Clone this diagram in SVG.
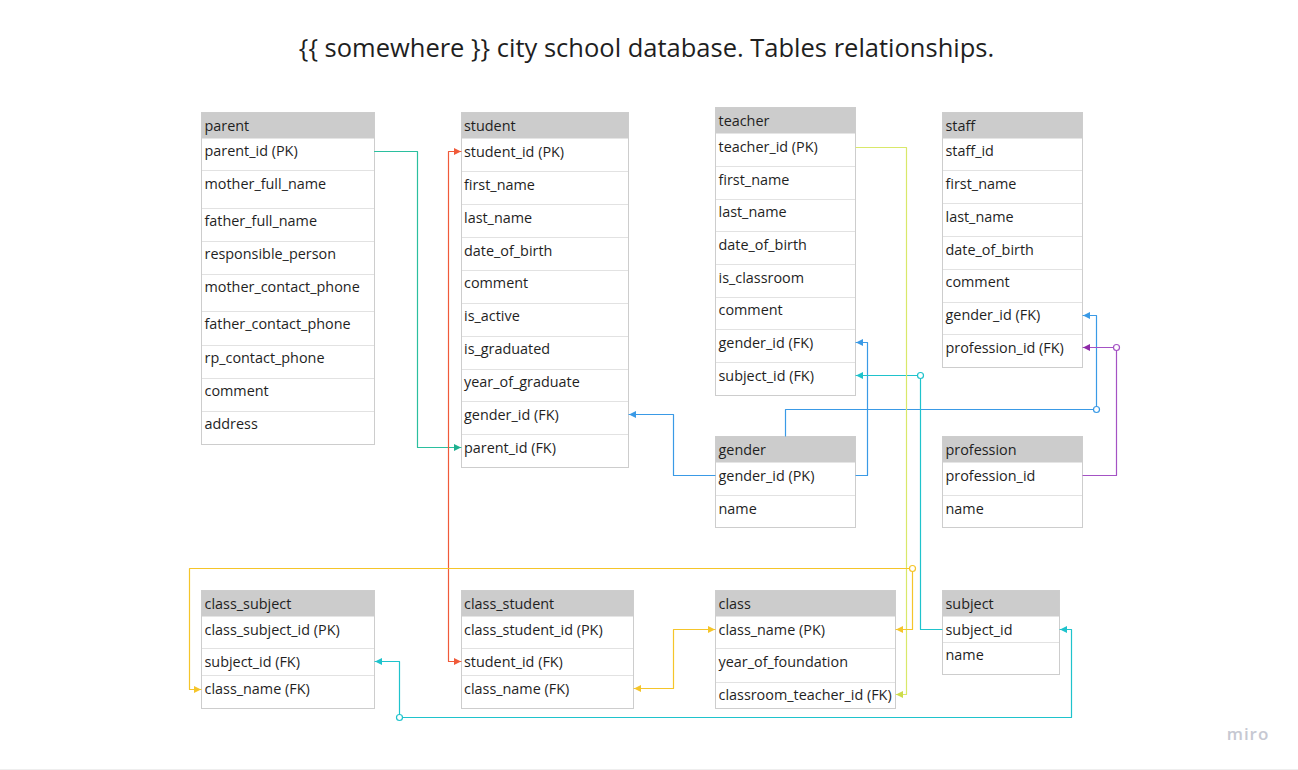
<svg xmlns="http://www.w3.org/2000/svg" width="1298" height="770" viewBox="0 0 1298 770">
<style>
.bg{fill:#ffffff}
.tb{fill:#ffffff;stroke:#cdcdcd;stroke-width:1}
.hd{fill:#cccccc}
.sep{stroke:#e2e2e2;stroke-width:1}
.t{font-family:"Open Sans","Liberation Sans",sans-serif;font-size:14.4px;fill:#1f1f1f}
.title{font-family:"Open Sans","Liberation Sans",sans-serif;font-size:25.5px;fill:#1f1f1f}
.c{fill:none;stroke-width:1.2;stroke-linejoin:round;stroke-linecap:round}
.dot{fill:#ffffff;stroke-width:1.2}
.teal{stroke:#2bbf9f}
.red{stroke:#f05a3a}
.blue{stroke:#3a9ae6}
.cyan{stroke:#1fc3cc}
.yel{stroke:#f5c52a}
.lime{stroke:#d9e86a}
.pur{stroke:#a452c4}
</style>
<defs>
<marker id="aTeal" markerUnits="userSpaceOnUse" markerWidth="8" markerHeight="8" refX="7" refY="3.5" orient="auto-start-reverse"><path d="M0,0 L7,3.5 L0,7 z" fill="#1fb08f"/></marker>
<marker id="aRed" markerUnits="userSpaceOnUse" markerWidth="8" markerHeight="8" refX="7" refY="3.5" orient="auto-start-reverse"><path d="M0,0 L7,3.5 L0,7 z" fill="#f05a3a"/></marker>
<marker id="aBlue" markerUnits="userSpaceOnUse" markerWidth="8" markerHeight="8" refX="7" refY="3.5" orient="auto-start-reverse"><path d="M0,0 L7,3.5 L0,7 z" fill="#3a9ae6"/></marker>
<marker id="aCyan" markerUnits="userSpaceOnUse" markerWidth="8" markerHeight="8" refX="7" refY="3.5" orient="auto-start-reverse"><path d="M0,0 L7,3.5 L0,7 z" fill="#1fc3cc"/></marker>
<marker id="aYel" markerUnits="userSpaceOnUse" markerWidth="8" markerHeight="8" refX="7" refY="3.5" orient="auto-start-reverse"><path d="M0,0 L7,3.5 L0,7 z" fill="#f5c52a"/></marker>
<marker id="aLime" markerUnits="userSpaceOnUse" markerWidth="8" markerHeight="8" refX="7" refY="3.5" orient="auto-start-reverse"><path d="M0,0 L7,3.5 L0,7 z" fill="#cddc4a"/></marker>
<marker id="aPur" markerUnits="userSpaceOnUse" markerWidth="8" markerHeight="8" refX="7" refY="3.5" orient="auto-start-reverse"><path d="M0,0 L7,3.5 L0,7 z" fill="#8e2aa8"/></marker>
</defs>
<rect class="bg" x="0" y="0" width="1298" height="770"/>
<line x1="0" y1="769.5" x2="1298" y2="769.5" stroke="#eeeeee" stroke-width="1"/>
<text class="title" x="646.5" y="57" text-anchor="middle">{{ somewhere }} city school database. Tables relationships.</text>

<g id="parent">
<rect class="tb" x="201.5" y="112.5" width="173" height="332"/>
<rect class="hd" x="202" y="113" width="172" height="25.5"/>
<line class="sep" x1="202" y1="170.5" x2="374" y2="170.5"/>
<line class="sep" x1="202" y1="208.5" x2="374" y2="208.5"/>
<line class="sep" x1="202" y1="241.5" x2="374" y2="241.5"/>
<line class="sep" x1="202" y1="274.5" x2="374" y2="274.5"/>
<line class="sep" x1="202" y1="311.5" x2="374" y2="311.5"/>
<line class="sep" x1="202" y1="345.5" x2="374" y2="345.5"/>
<line class="sep" x1="202" y1="378.5" x2="374" y2="378.5"/>
<line class="sep" x1="202" y1="411.5" x2="374" y2="411.5"/>
<text class="t" x="204.5" y="130.5">parent</text>
<text class="t" x="204.5" y="156">parent_id (PK)</text>
<text class="t" x="204.5" y="189">mother_full_name</text>
<text class="t" x="204.5" y="226">father_full_name</text>
<text class="t" x="204.5" y="259">responsible_person</text>
<text class="t" x="204.5" y="292">mother_contact_phone</text>
<text class="t" x="204.5" y="329">father_contact_phone</text>
<text class="t" x="204.5" y="363">rp_contact_phone</text>
<text class="t" x="204.5" y="396">comment</text>
<text class="t" x="204.5" y="429">address</text>
</g>

<g id="student">
<rect class="tb" x="461.5" y="112.5" width="167" height="355"/>
<rect class="hd" x="462" y="113" width="166" height="25.5"/>
<line class="sep" x1="462" y1="171.5" x2="628" y2="171.5"/>
<line class="sep" x1="462" y1="204.5" x2="628" y2="204.5"/>
<line class="sep" x1="462" y1="237.5" x2="628" y2="237.5"/>
<line class="sep" x1="462" y1="270.5" x2="628" y2="270.5"/>
<line class="sep" x1="462" y1="303.5" x2="628" y2="303.5"/>
<line class="sep" x1="462" y1="336.5" x2="628" y2="336.5"/>
<line class="sep" x1="462" y1="369.5" x2="628" y2="369.5"/>
<line class="sep" x1="462" y1="401.5" x2="628" y2="401.5"/>
<line class="sep" x1="462" y1="434.5" x2="628" y2="434.5"/>
<text class="t" x="464" y="130.5">student</text>
<text class="t" x="464" y="157">student_id (PK)</text>
<text class="t" x="464" y="190">first_name</text>
<text class="t" x="464" y="223">last_name</text>
<text class="t" x="464" y="256">date_of_birth</text>
<text class="t" x="464" y="288">comment</text>
<text class="t" x="464" y="321">is_active</text>
<text class="t" x="464" y="354">is_graduated</text>
<text class="t" x="464" y="387">year_of_graduate</text>
<text class="t" x="464" y="420">gender_id (FK)</text>
<text class="t" x="464" y="453">parent_id (FK)</text>
</g>

<g id="teacher">
<rect class="tb" x="715.5" y="107.5" width="140" height="288"/>
<rect class="hd" x="716" y="108" width="139" height="25.5"/>
<line class="sep" x1="716" y1="166.5" x2="855" y2="166.5"/>
<line class="sep" x1="716" y1="199.5" x2="855" y2="199.5"/>
<line class="sep" x1="716" y1="231.5" x2="855" y2="231.5"/>
<line class="sep" x1="716" y1="264.5" x2="855" y2="264.5"/>
<line class="sep" x1="716" y1="297.5" x2="855" y2="297.5"/>
<line class="sep" x1="716" y1="329.5" x2="855" y2="329.5"/>
<line class="sep" x1="716" y1="362.5" x2="855" y2="362.5"/>
<text class="t" x="718.5" y="125.5">teacher</text>
<text class="t" x="718.5" y="152">teacher_id (PK)</text>
<text class="t" x="718.5" y="185">first_name</text>
<text class="t" x="718.5" y="217">last_name</text>
<text class="t" x="718.5" y="250">date_of_birth</text>
<text class="t" x="718.5" y="283">is_classroom</text>
<text class="t" x="718.5" y="315">comment</text>
<text class="t" x="718.5" y="348">gender_id (FK)</text>
<text class="t" x="718.5" y="381">subject_id (FK)</text>
</g>

<g id="staff">
<rect class="tb" x="942.5" y="112.5" width="140" height="255"/>
<rect class="hd" x="943" y="113" width="139" height="25.5"/>
<line class="sep" x1="943" y1="170.5" x2="1082" y2="170.5"/>
<line class="sep" x1="943" y1="203.5" x2="1082" y2="203.5"/>
<line class="sep" x1="943" y1="236.5" x2="1082" y2="236.5"/>
<line class="sep" x1="943" y1="269.5" x2="1082" y2="269.5"/>
<line class="sep" x1="943" y1="302.5" x2="1082" y2="302.5"/>
<line class="sep" x1="943" y1="334.5" x2="1082" y2="334.5"/>
<text class="t" x="945.5" y="130.5">staff</text>
<text class="t" x="945.5" y="156">staff_id</text>
<text class="t" x="945.5" y="189">first_name</text>
<text class="t" x="945.5" y="222">last_name</text>
<text class="t" x="945.5" y="255">date_of_birth</text>
<text class="t" x="945.5" y="287">comment</text>
<text class="t" x="945.5" y="320">gender_id (FK)</text>
<text class="t" x="945.5" y="353">profession_id (FK)</text>
</g>

<g id="gender">
<rect class="tb" x="715.5" y="436.5" width="140" height="91"/>
<rect class="hd" x="716" y="437" width="139" height="25.5"/>
<line class="sep" x1="716" y1="495.5" x2="855" y2="495.5"/>
<text class="t" x="718.5" y="455">gender</text>
<text class="t" x="718.5" y="481">gender_id (PK)</text>
<text class="t" x="718.5" y="514">name</text>
</g>

<g id="profession">
<rect class="tb" x="942.5" y="436.5" width="140" height="91"/>
<rect class="hd" x="943" y="437" width="139" height="25.5"/>
<line class="sep" x1="943" y1="495.5" x2="1082" y2="495.5"/>
<text class="t" x="945.5" y="455">profession</text>
<text class="t" x="945.5" y="481">profession_id</text>
<text class="t" x="945.5" y="514">name</text>
</g>

<g id="class_subject">
<rect class="tb" x="201.5" y="590.5" width="173" height="118"/>
<rect class="hd" x="202" y="591" width="172" height="25.5"/>
<line class="sep" x1="202" y1="648.5" x2="374" y2="648.5"/>
<line class="sep" x1="202" y1="675.5" x2="374" y2="675.5"/>
<text class="t" x="204.5" y="609">class_subject</text>
<text class="t" x="204.5" y="635">class_subject_id (PK)</text>
<text class="t" x="204.5" y="667">subject_id (FK)</text>
<text class="t" x="204.5" y="694">class_name (FK)</text>
</g>

<g id="class_student">
<rect class="tb" x="461.5" y="590.5" width="172" height="118"/>
<rect class="hd" x="462" y="591" width="171" height="25.5"/>
<line class="sep" x1="462" y1="648.5" x2="633" y2="648.5"/>
<line class="sep" x1="462" y1="675.5" x2="633" y2="675.5"/>
<text class="t" x="464" y="609">class_student</text>
<text class="t" x="464" y="635">class_student_id (PK)</text>
<text class="t" x="464" y="667">student_id (FK)</text>
<text class="t" x="464" y="694">class_name (FK)</text>
</g>

<g id="class">
<rect class="tb" x="715.5" y="590.5" width="180" height="118"/>
<rect class="hd" x="716" y="591" width="179" height="25.5"/>
<line class="sep" x1="716" y1="648.5" x2="895" y2="648.5"/>
<line class="sep" x1="716" y1="682.5" x2="895" y2="682.5"/>
<text class="t" x="718.5" y="609">class</text>
<text class="t" x="718.5" y="635">class_name (PK)</text>
<text class="t" x="718.5" y="667">year_of_foundation</text>
<text class="t" x="718.5" y="700">classroom_teacher_id (FK)</text>
</g>

<g id="subject">
<rect class="tb" x="942.5" y="590.5" width="117" height="84"/>
<rect class="hd" x="943" y="591" width="116" height="25.5"/>
<line class="sep" x1="943" y1="642.5" x2="1059" y2="642.5"/>
<text class="t" x="945.5" y="609">subject</text>
<text class="t" x="945.5" y="635">subject_id</text>
<text class="t" x="945.5" y="660">name</text>
</g>

<g id="connectors">
<path class="c teal" d="M374.5,151.5 H417.5 V447.5 H461" marker-end="url(#aTeal)"/>
<path class="c red" d="M461,151.5 H448.5 V661.5 H461" marker-start="url(#aRed)" marker-end="url(#aRed)"/>
<path class="c blue" d="M715,475.5 H673.5 V414.5 H629" marker-end="url(#aBlue)"/>
<path class="c blue" d="M856,475.5 H867.5 V342.5 H856" marker-end="url(#aBlue)"/>
<path class="c blue" d="M785.5,436 V409.5 H1096.5 V315.5 H1083" marker-end="url(#aBlue)"/>
<circle class="dot blue" cx="1096.5" cy="409.5" r="3"/>
<path class="c pur" d="M1083,475.5 H1116.5 V347.5 H1083" marker-end="url(#aPur)"/>
<circle class="dot pur" cx="1116.5" cy="347.5" r="3"/>
<path class="c cyan" d="M942,629.5 H920.5 V375.5 H856" marker-end="url(#aCyan)"/>
<circle class="dot cyan" cx="920.5" cy="375.5" r="3"/>
<path class="c cyan" d="M399.5,717.5 H1071.5 V629.5 H1060" marker-end="url(#aCyan)"/>
<path class="c cyan" d="M399.5,717.5 V661.5 H375" marker-end="url(#aCyan)"/>
<circle class="dot cyan" cx="399.5" cy="717.5" r="3"/>
<path class="c lime" d="M856,147.5 H906.5 V694.5 H896" marker-end="url(#aLime)"/>
<path class="c yel" d="M912.5,568.5 H189.5 V689.5 H201" marker-end="url(#aYel)"/>
<path class="c yel" d="M912.5,568.5 V629.5 H896" marker-end="url(#aYel)"/>
<circle class="dot yel" cx="912.5" cy="568.5" r="3"/>
<path class="c yel" d="M715,629.5 H673.5 V688.5 H634" marker-start="url(#aYel)" marker-end="url(#aYel)"/>
</g>

<text x="1248" y="740" text-anchor="middle" font-family="'Open Sans','Liberation Sans',sans-serif" font-size="17" font-weight="600" letter-spacing="1" fill="#c6c8d2">miro</text>
</svg>
